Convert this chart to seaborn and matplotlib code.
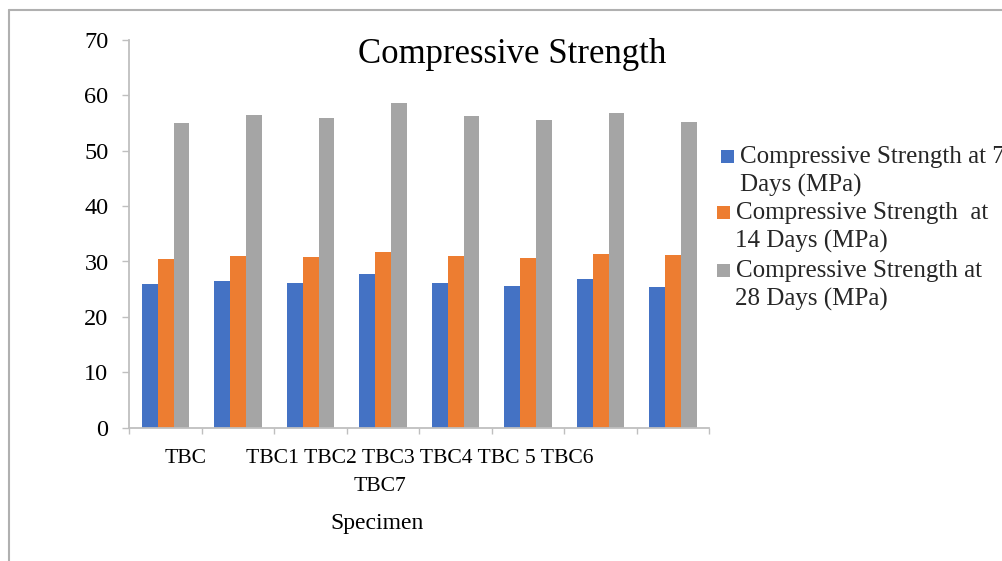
import matplotlib
matplotlib.use("Agg")
import matplotlib.pyplot as plt
from matplotlib.patches import Rectangle
from matplotlib.lines import Line2D
import seaborn as sns
import pandas as pd

# Specimens and measured compressive strengths (MPa)
specimens = ["TBC", "TBC1", "TBC2", "TBC3", "TBC4", "TBC 5", "TBC6", "TBC7"]
strength_7d = [25.9, 26.4, 26.1, 27.8, 26.2, 25.5, 26.9, 25.4]
strength_14d = [30.5, 31.0, 30.8, 31.8, 31.0, 30.6, 31.3, 31.2]
strength_28d = [55.0, 56.5, 55.9, 58.7, 56.2, 55.6, 56.8, 55.1]
series_names = [
    ("Compressive Strength at 7", "Days (MPa)"),
    ("Compressive Strength  at", "14 Days (MPa)"),
    ("Compressive Strength at", "28 Days (MPa)"),
]
series_colors = ["#4472C4", "#ED7D31", "#A5A5A5"]
y_ticks = [0, 10, 20, 30, 40, 50, 60, 70]

W, H = 1003, 561
sns.set_theme(style="white")
plt.rcParams["font.family"] = ["Liberation Serif", "DejaVu Serif"]

rows = []
for vals, name in zip([strength_7d, strength_14d, strength_28d], series_names):
    for spec, v in zip(specimens, vals):
        rows.append({"Specimen": spec, "Series": " ".join(name), "Strength": v})
df = pd.DataFrame(rows)
hue_order = [" ".join(n) for n in series_names]

fig = plt.figure(figsize=(W / 100, H / 100), dpi=100)
fig.patch.set_facecolor("white")


def fx(px):
    return px / W


def fy(py):
    return 1 - py / H


ax = fig.add_axes([fx(129.3), fy(427.7), fx(709.3) - fx(129.3), fy(39.9) - fy(427.7)])
sns.barplot(data=df, x="Specimen", y="Strength", hue="Series", hue_order=hue_order,
            order=specimens, palette=series_colors, saturation=1, width=0.66,
            linewidth=0, errorbar=None, legend=False, ax=ax)

ax.set_xlim(-0.5, len(specimens) - 0.5)
ax.set_ylim(0, 70)
ax.set_yticks(y_ticks)
ax.set_yticklabels([str(t) for t in y_ticks])
ax.set_xticks([i - 0.5 for i in range(len(specimens) + 1)])
ax.set_xticklabels([])
ax.set_xlabel("")
ax.set_ylabel("")

for side in ["top", "right"]:
    ax.spines[side].set_visible(False)
for side in ["left", "bottom"]:
    ax.spines[side].set_color("#BFBFBF")
    ax.spines[side].set_linewidth(1.3)
ax.tick_params(axis="y", direction="out", length=5, width=1, color="#BFBFBF",
               labelsize=17.5, pad=10, left=True, labelcolor="black")
ax.tick_params(axis="x", direction="out", length=4.5, width=1, color="#BFBFBF",
               bottom=True)

# Category labels, wrapped across rows as laid out on the axis
xt = ax.get_xaxis_transform()
lbl_kw = dict(fontsize=15.6, ha="center", va="baseline", color="black")
ax.text(0.275, -0.091, specimens[0], transform=xt, **lbl_kw)
ax.text(3.503, -0.091, " ".join(specimens[1:7]), transform=xt, **lbl_kw)
ax.text(2.951, -0.163, specimens[7], transform=xt, **lbl_kw)
ax.text(2.912, -0.261, "Specimen", transform=xt, fontsize=17, ha="center",
        va="baseline", color="black")

# Title
fig.text(fx(512), fy(62.7), "Compressive Strength", fontsize=25, ha="center",
         va="baseline", color="black")

# Legend entries: colour square beside a two-line label
legend_rows = [(721, 740, 162.7), (717, 736, 219.0), (717, 736, 276.7)]
for (sq_x, tx, base), color, (l1, l2) in zip(legend_rows, series_colors, series_names):
    fig.add_artist(Rectangle((fx(sq_x), fy(base)), fx(13), 13 / H,
                             transform=fig.transFigure, facecolor=color,
                             edgecolor="none"))
    fig.text(fx(tx), fy(base), l1, fontsize=18, ha="left", va="baseline")
    fig.text(fx(tx - 0.5), fy(base + 29), l2, fontsize=18, ha="left", va="baseline")

# Chart-area frame
fig.add_artist(Line2D([fx(9.5), fx(9.5)], [fy(9.5), 0], transform=fig.transFigure,
                      color="#B0B0B0", linewidth=1.5))
fig.add_artist(Line2D([fx(9.5), 1], [fy(9.5), fy(9.5)], transform=fig.transFigure,
                      color="#B0B0B0", linewidth=1.5))

fig.savefig("out.png", dpi=100)
